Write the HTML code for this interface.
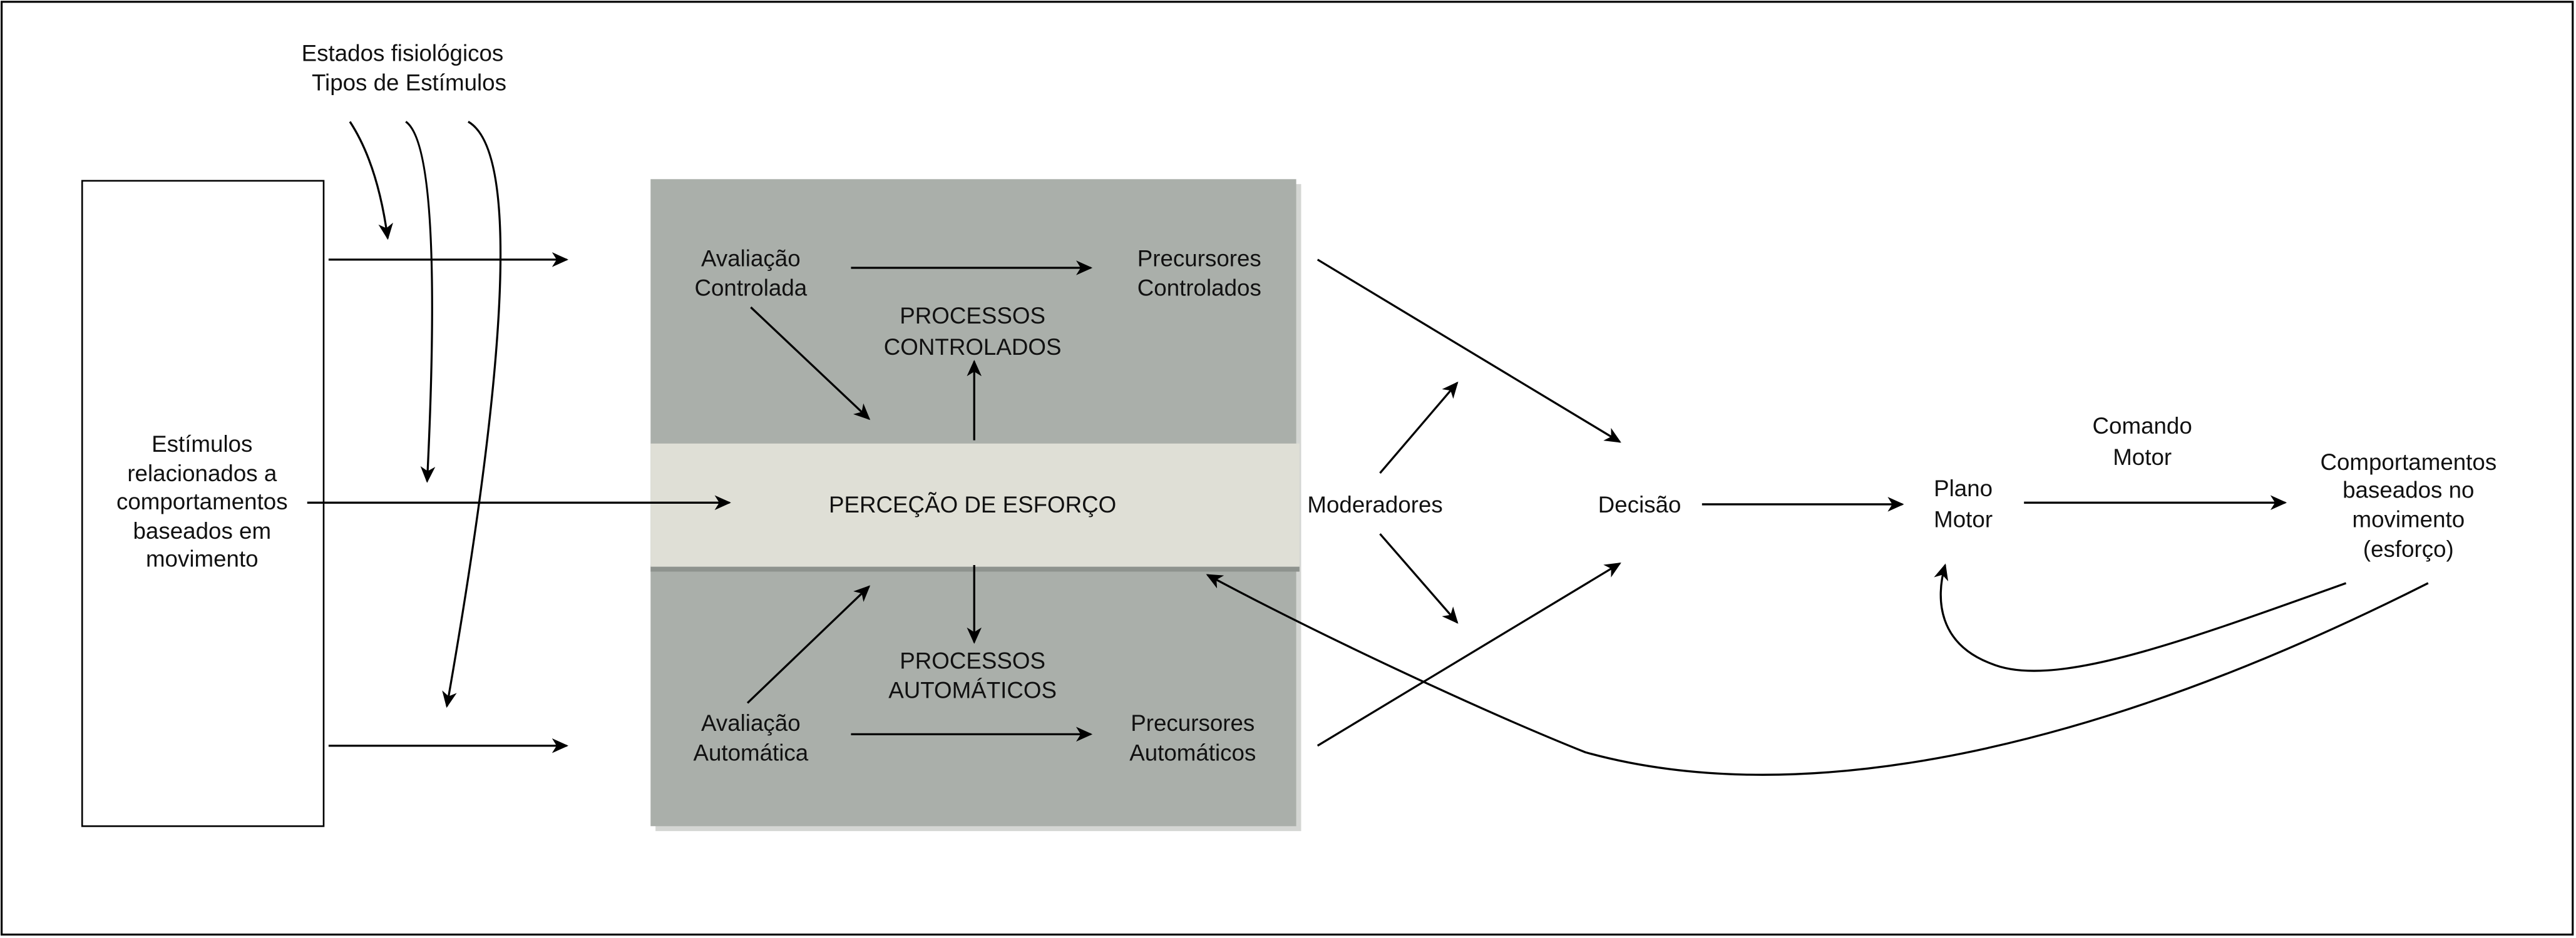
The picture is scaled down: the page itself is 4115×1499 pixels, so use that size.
<!DOCTYPE html>
<html><head><meta charset="utf-8"><style>
html,body{margin:0;padding:0;background:#fff;}
svg{display:block;}
text{font-family:"Liberation Sans",sans-serif;font-size:14px;fill:#111;text-anchor:middle;}
</style></head><body>
<svg width="4115" height="1499" viewBox="0 0 1568 571" xmlns="http://www.w3.org/2000/svg">
<defs>
<marker id="a" markerWidth="12" markerHeight="12" refX="9" refY="4.5" orient="auto" markerUnits="userSpaceOnUse">
<path d="M0,0 L10,4.5 L0,9 L2.8,4.5 Z" fill="#000"/>
</marker>
</defs>
<rect x="0" y="0" width="1568" height="571" fill="#fff"/>
<rect x="1" y="1" width="1565" height="568" fill="none" stroke="#000" stroke-width="1.2"/>
<rect x="50" y="110" width="147" height="393" fill="#fff" stroke="#000" stroke-width="1"/>
<rect x="399" y="112" width="393" height="394" fill="#d4d6d3"/>
<rect x="396" y="109" width="393" height="394" fill="#aaafaa"/>
<rect x="396" y="344" width="395" height="4" fill="#8e938e"/>
<rect x="396" y="270" width="395" height="75" fill="#dfdfd6"/>
<g fill="none" stroke="#000" stroke-width="1.25">
<line x1="200" y1="158" x2="345" y2="158" marker-end="url(#a)"/>
<line x1="200" y1="454" x2="345" y2="454" marker-end="url(#a)"/>
<line x1="187" y1="306" x2="444" y2="306" marker-end="url(#a)"/>
<line x1="518" y1="163" x2="664" y2="163" marker-end="url(#a)"/>
<line x1="518" y1="447" x2="664" y2="447" marker-end="url(#a)"/>
<line x1="457" y1="187" x2="529" y2="255" marker-end="url(#a)"/>
<line x1="455" y1="428" x2="529" y2="357" marker-end="url(#a)"/>
<line x1="593" y1="268" x2="593" y2="220" marker-end="url(#a)"/>
<line x1="593" y1="344" x2="593" y2="391" marker-end="url(#a)"/>
<path d="M213,74 Q230,100 236,145" marker-end="url(#a)"/>
<path d="M247,74 Q270,90 260,293" marker-end="url(#a)"/>
<path d="M285,74 Q330,100 272,430" marker-end="url(#a)"/>
<line x1="802" y1="158" x2="986" y2="269" marker-end="url(#a)"/>
<line x1="802" y1="454" x2="986" y2="343" marker-end="url(#a)"/>
<line x1="840" y1="288" x2="887" y2="233" marker-end="url(#a)"/>
<line x1="840" y1="325" x2="887" y2="379" marker-end="url(#a)"/>
<line x1="1036" y1="307" x2="1158" y2="307" marker-end="url(#a)"/>
<line x1="1232" y1="306" x2="1391" y2="306" marker-end="url(#a)"/>
<path d="M1428,355 C1330,390 1250,420 1212,404 C1180,392 1178,365 1184,344" marker-end="url(#a)"/>
<path d="M1478,355 C1250,470 1080,490 965,458 C900,432 800,385 735,350" marker-end="url(#a)"/>
</g>
<text x="245" y="37">Estados fisiológicos</text>
<text x="249" y="55">Tipos de Estímulos</text>
<text x="123" y="275">Estímulos</text>
<text x="123" y="293">relacionados a</text>
<text x="123" y="310">comportamentos</text>
<text x="123" y="328">baseados em</text>
<text x="123" y="345">movimento</text>
<text x="457" y="162">Avaliação</text>
<text x="457" y="180">Controlada</text>
<text x="730" y="162">Precursores</text>
<text x="730" y="180">Controlados</text>
<text x="592" y="197">PROCESSOS</text>
<text x="592" y="216">CONTROLADOS</text>
<text x="592" y="312">PERCEÇÃO DE ESFORÇO</text>
<text x="592" y="407">PROCESSOS</text>
<text x="592" y="425">AUTOMÁTICOS</text>
<text x="457" y="445">Avaliação</text>
<text x="457" y="463">Automática</text>
<text x="726" y="445">Precursores</text>
<text x="726" y="463">Automáticos</text>
<text x="837" y="312">Moderadores</text>
<text x="998" y="312">Decisão</text>
<text x="1195" y="302">Plano</text>
<text x="1195" y="321">Motor</text>
<text x="1304" y="264">Comando</text>
<text x="1304" y="283">Motor</text>
<text x="1466" y="286">Comportamentos</text>
<text x="1466" y="303">baseados no</text>
<text x="1466" y="321">movimento</text>
<text x="1466" y="339">(esforço)</text>
</svg>
</body></html>
